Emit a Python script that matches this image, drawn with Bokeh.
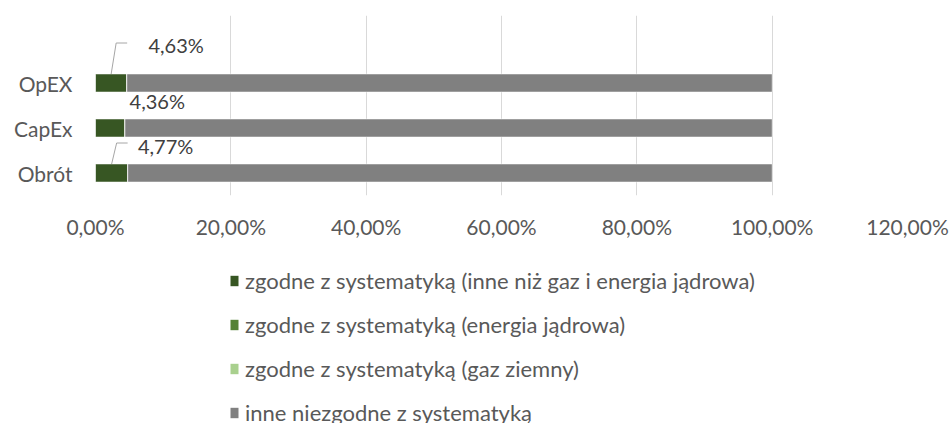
from bokeh.plotting import figure
from bokeh.layouts import column
from bokeh.models import Legend, LegendItem, FixedTicker, ColumnDataSource, Range1d
from bokeh.core.properties import value
from bokeh.embed import file_html
from bokeh.resources import INLINE

# ---- data ----
categories = ["Obrót", "CapEx", "OpEX"]
aligned_other = [4.77, 4.36, 4.63]      # zgodne (inne niż gaz i energia jądrowa)
aligned_nuclear = [0.0, 0.0, 0.0]       # zgodne (energia jądrowa)
aligned_gas = [0.0, 0.0, 0.0]           # zgodne (gaz ziemny)
not_aligned = [95.23, 95.64, 95.37]     # inne niezgodne
label_texts = ["4,77%", "4,36%", "4,63%"]
x_ticks = [0, 20, 40, 60, 80, 100, 120]
x_tick_labels = ["0,00%", "20,00%", "40,00%", "60,00%", "80,00%", "100,00%", "120,00%"]
series_names = [
    "zgodne z systematyką (inne niż gaz i energia jądrowa)",
    "zgodne z systematyką (energia jądrowa)",
    "zgodne z systematyką (gaz ziemny)",
    "inne niezgodne z systematyką",
]

# ---- styles ----
colors = ["#375623", "#548235", "#A9D08E", "#808080"]
FONT = "Lato"
FS = "21px"
label_dx = [54, 47, 65]       # px offset of data labels
label_dy = [-27, -27, -38]
leader_rise = [30, None, 40]  # px, None = no leader

ypos = list(range(len(categories)))
src = ColumnDataSource(dict(
    y=ypos, a=aligned_other, n=aligned_nuclear, g=aligned_gas, o=not_aligned,
))
stackers = ["a", "n", "g", "o"]

W = 950
H1, H2 = 245, 178
p = figure(width=W, height=H1, output_backend="svg", toolbar_location=None,
           x_range=Range1d(0, 120), y_range=Range1d(-0.5, 3.5),
           min_border_left=95, min_border_right=43, min_border_top=15,
           min_border_bottom=H1 - 15 - 180)
p.outline_line_color = None

rs = p.hbar_stack(stackers, y="y", height=0.4, color=colors,
                  line_color="white", line_width=0.5, source=src)

# axes
p.xaxis.ticker = FixedTicker(ticks=x_ticks)
p.xaxis.major_label_overrides = {t: l for t, l in zip(x_ticks, x_tick_labels)}
p.yaxis.ticker = FixedTicker(ticks=ypos)
p.yaxis.major_label_overrides = {i: c for i, c in zip(ypos, categories)}
for ax in (p.xaxis, p.yaxis):
    ax.axis_line_color = None
    ax.major_tick_line_color = None
    ax.minor_tick_line_color = None
    ax.major_tick_out = 0
    ax.major_tick_in = 0
    ax.minor_tick_out = 0
    ax.major_label_text_font = FONT
    ax.major_label_text_font_size = FS
    ax.major_label_text_color = "#595959"
p.xaxis.major_label_standoff = 18
p.yaxis.major_label_standoff = 23
p.xgrid.ticker = FixedTicker(ticks=x_ticks)
p.xgrid.grid_line_color = "#d9d9d9"
p.xgrid.grid_line_width = 1
p.ygrid.grid_line_color = None

# data labels
centers = [v / 2 for v in aligned_other]
lab = ColumnDataSource(dict(x=centers, y=ypos, t=label_texts, dx=label_dx, dy=label_dy))
p.text(x="x", y="y", text="t", x_offset="dx", y_offset="dy", source=lab,
       text_font=value(FONT), text_font_size="20px", text_color="#404040",
       text_align="center", text_baseline="middle")

# leader lines (data units from pixel scale)
xpp = 120 / 812
ypp = 4 / 180
xs, ys = [], []
for c, yv, r in zip(centers, ypos, leader_rise):
    if r is None:
        continue
    top = yv + r * ypp
    xs.append([c, c + 5 * xpp, c + 16 * xpp])
    ys.append([yv + 0.2, top, top])
p.multi_line(xs=xs, ys=ys, line_color="#a6a6a6", line_width=1)

# ---- legend panel (same data, drawn out of view; only the legend shows) ----
p2 = figure(width=W, height=H2, output_backend="svg", toolbar_location=None,
            x_range=Range1d(0, 120), y_range=Range1d(50, 51),
            x_axis_type=None, y_axis_type=None,
            min_border_left=0, min_border_right=0, min_border_top=0, min_border_bottom=0)
p2.outline_line_color = None
p2.xgrid.visible = False
p2.ygrid.visible = False
rs2 = p2.hbar_stack(stackers, y="y", height=0.4, color=colors, line_color=None, source=src)

legend = Legend(items=[LegendItem(label=n, renderers=[r]) for n, r in zip(series_names, rs2)],
                location=(134, -3), orientation="vertical")
legend.border_line_color = None
legend.background_fill_alpha = 0
legend.padding = 0
legend.margin = 0
legend.spacing = 16
legend.label_height = 28
legend.glyph_height = 13
legend.glyph_width = 10
legend.label_standoff = 6
legend.label_text_font = FONT
legend.label_text_font_size = "22px"
legend.label_text_color = "#595959"
p2.add_layout(legend, "center")

layout = column(p, p2, spacing=0)
open("out.html", "w").write(file_html(layout, INLINE))
